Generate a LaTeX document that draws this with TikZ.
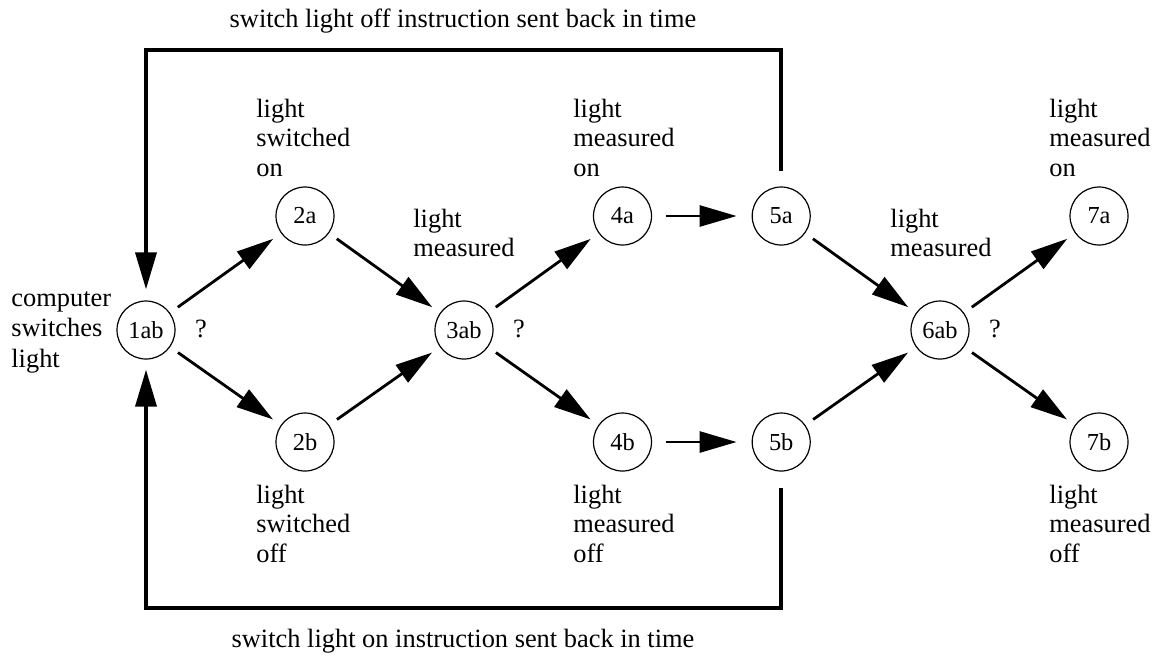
\documentclass[tikz,border=0pt]{standalone}
\usepackage{fontspec}
\setmainfont{Liberation Serif}
\usetikzlibrary{arrows.meta,calc}
\newcommand{\stk}[1]{\begin{tabular}[t]{@{}l@{}}#1\end{tabular}}
\begin{document}
\begin{tikzpicture}[x=0.5pt,y=-0.5pt,
  txt/.style={font=\fontsize{13.2}{14.75}\selectfont, inner sep=0pt},
  lab/.style={txt, anchor=base west},
  state/.style={draw, circle, line width=0.6pt, minimum size=29pt, inner sep=0pt, font=\fontsize{12.2}{14}\selectfont},
  tip/.style={-{Triangle[length=18.5pt,width=10.5pt]}},
  flow/.style={tip, line width=1.4pt, shorten <=4.75pt, shorten >=4.75pt},
  hflow/.style={tip, line width=1.4pt, shorten <=7pt, shorten >=7.5pt},
  frame/.style={tip, line width=1.8pt}
]
\useasboundingbox (0,0) rectangle (1155,655);

\node[state] (n1)  at (146,330) {1ab};
\node[state] (n2a) at (305,216) {2a};
\node[state] (n2b) at (305,442) {2b};
\node[state] (n3)  at (464,330) {3ab};
\node[state] (n4a) at (622.5,216) {4a};
\node[state] (n4b) at (622.5,442) {4b};
\node[state] (n5a) at (781.2,216) {5a};
\node[state] (n5b) at (781.2,442) {5b};
\node[state] (n6)  at (940,330) {6ab};
\node[state] (n7a) at (1099,216) {7a};
\node[state] (n7b) at (1099,442) {7b};

\node[txt, anchor=base] (q1) at (201,337) {?};
\node[txt, anchor=base] (q3) at (519,337) {?};
\node[txt, anchor=base] (q6) at (995,337) {?};

\node[lab, font=\fontsize{13.2}{15.4}\selectfont] (labc) at (11,306) {\stk{computer\\switches\\light}};
\node[lab] (lab2a) at (256,117) {\stk{light\\switched\\on}};
\node[lab] (lab2b) at (256,503) {\stk{light\\switched\\off}};
\node[lab] (lab3)  at (413,227) {\stk{light\\measured}};
\node[lab] (lab4a) at (573,117) {\stk{light\\measured\\on}};
\node[lab] (lab4b) at (573,503) {\stk{light\\measured\\off}};
\node[lab] (lab6)  at (890,227) {\stk{light\\measured}};
\node[lab] (lab7a) at (1049,117) {\stk{light\\measured\\on}};
\node[lab] (lab7b) at (1049,503) {\stk{light\\measured\\off}};

\node[txt, anchor=base] (top) at (463,27) {switch light off instruction sent back in time};
\node[txt, anchor=base] (bot) at (463,647) {switch light on instruction sent back in time};

\draw[flow] (n1) -- (n2a);
\draw[flow] (n1) -- (n2b);
\draw[flow] (n2a) -- (n3);
\draw[flow] (n2b) -- (n3);
\draw[flow] (n3) -- (n4a);
\draw[flow] (n3) -- (n4b);
\draw[hflow] (n4a) -- (n5a);
\draw[hflow] (n4b) -- (n5b);
\draw[flow] (n5a) -- (n6);
\draw[flow] (n5b) -- (n6);
\draw[flow] (n6) -- (n7a);
\draw[flow] (n6) -- (n7b);

\coordinate (topline) at (0,50);
\coordinate (botline) at (0,608);
\draw[frame, shorten >=5.5pt] ([yshift=7.5pt]n5a.north) -- (n5a |- topline) -| (n1.north);
\draw[frame, shorten >=5pt] ([yshift=-8pt]n5b.south) -- (n5b |- botline) -| (n1.south);
\end{tikzpicture}
\end{document}
